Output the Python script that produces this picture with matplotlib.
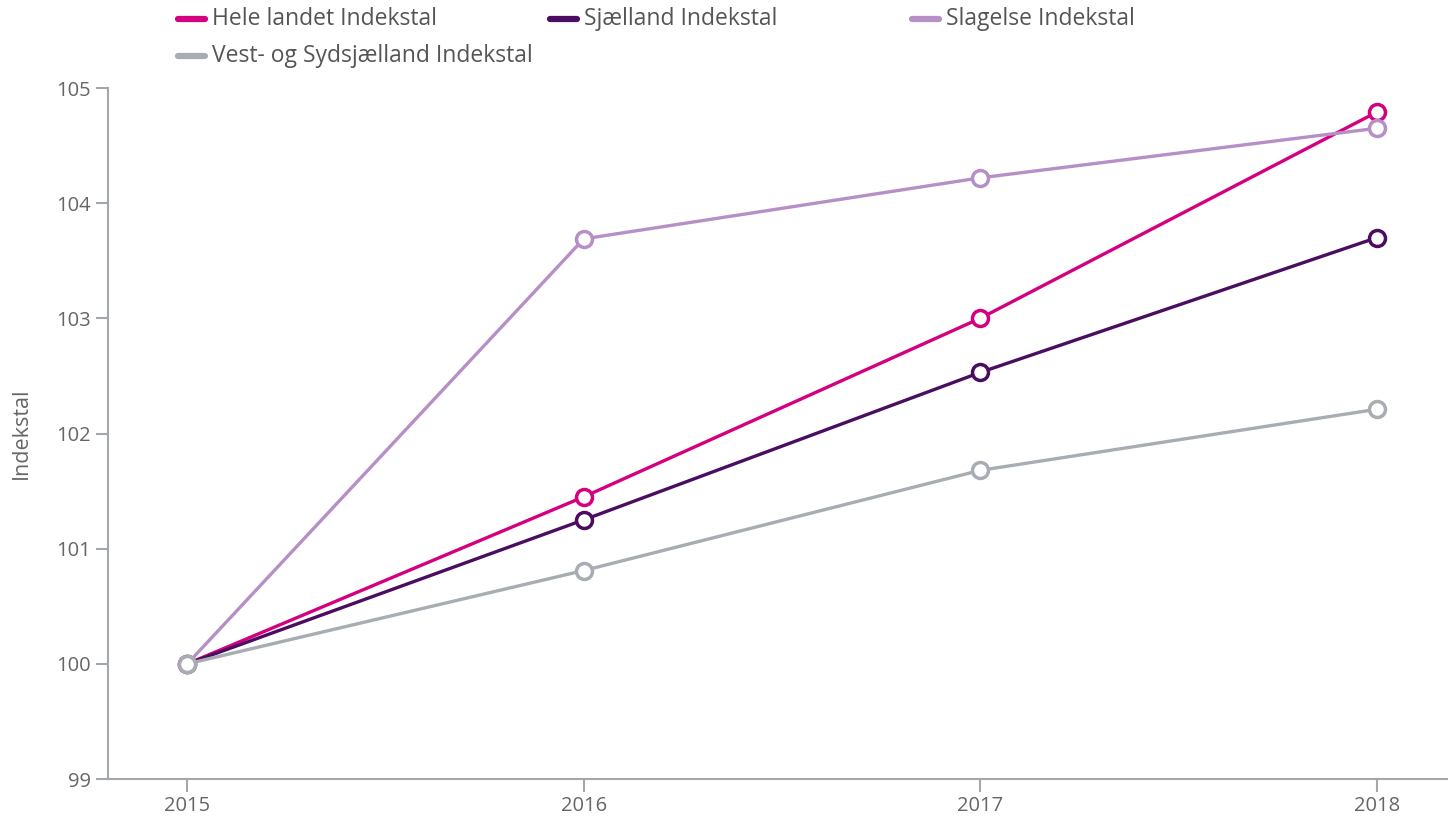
import matplotlib
matplotlib.use("Agg")
import matplotlib.pyplot as plt
from matplotlib.lines import Line2D

years = [2015, 2016, 2017, 2018]
hele_landet = [100.0, 101.45, 103.0, 104.79]
sjaelland = [100.0, 101.25, 102.53, 103.70]
slagelse = [100.0, 103.69, 104.22, 104.65]
vest_syd = [100.0, 100.81, 101.68, 102.21]

series = [
    ("Hele landet Indekstal", hele_landet, "#d4007f"),
    ("Sjælland Indekstal", sjaelland, "#4a0d5f"),
    ("Slagelse Indekstal", slagelse, "#b68fc7"),
    ("Vest- og Sydsjælland Indekstal", vest_syd, "#a7adb3"),
]
yticks = [99, 100, 101, 102, 103, 104, 105]

W, H = 1448, 819
plt.rcParams['font.family'] = ['Open Sans', 'DejaVu Sans']
fig = plt.figure(figsize=(W/100, H/100), dpi=100)
ax = fig.add_axes([108/W, 40/H, 1 - 108/W, (779-88)/H])

for name, vals, col in series:
    ax.plot(years, vals, color=col, lw=2.4, marker='o', ms=11.5, mfc='white',
            mec=col, mew=2.5, label=name, solid_capstyle='round')

ax.set_xlim(2014.80, 2018.18)
ax.set_ylim(99, 105)
ax.set_xticks(years)
ax.set_xticklabels([str(y) for y in years])
ax.set_yticks(yticks)
for s in ['top', 'right']:
    ax.spines[s].set_visible(False)
for s in ['left', 'bottom']:
    ax.spines[s].set_color('#a3a8ad')
    ax.spines[s].set_linewidth(1.5)
ax.tick_params(colors='#a3a8ad', labelcolor='#666666', labelsize=14.5, length=9, width=1.5)
ax.set_ylabel("Indekstal", color='#666666', fontsize=15.5)
ax.yaxis.set_label_coords(-(108 - 32)/(W - 108), 0.5)

# legend: fixed-width columns, row-major
leg_pos = [(178, 19), (550, 19), (912, 19), (178, 56)]
for (name, vals, col), (px, py) in zip(series, leg_pos):
    yf = 1 - py / H
    fig.add_artist(Line2D([px/W, (px + 27)/W], [yf, yf], color=col, lw=4.5,
                          solid_capstyle='round', transform=fig.transFigure))
    fig.text((px + 34)/W, yf, name, fontsize=16.5, color='#555555',
             ha='left', va='center')

fig.savefig("out.png", dpi=100)
